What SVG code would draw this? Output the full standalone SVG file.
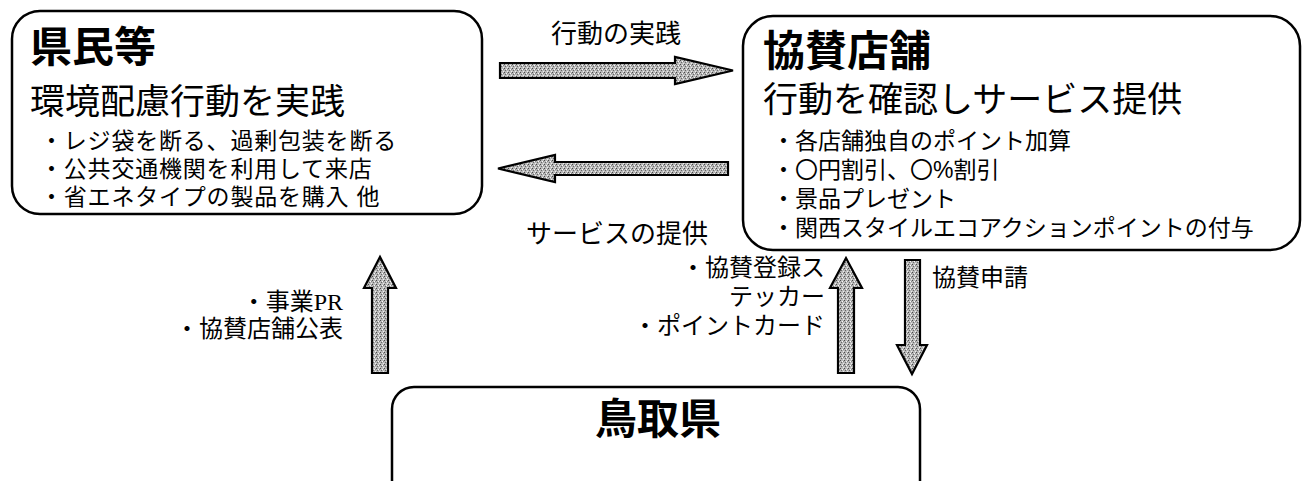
<svg xmlns="http://www.w3.org/2000/svg" width="1308" height="481" viewBox="0 0 1308 481">
<style>
.box{fill:#fff;stroke:#000;stroke-width:2.5}
.t{font-family:"Liberation Sans","Noto Sans CJK JP",sans-serif;fill:#000}
.title{font-size:42px;font-weight:bold}
.head{font-size:35px}
.bul{font-size:23px}
.lab{font-family:"Liberation Serif","Noto Sans CJK JP",serif;font-size:24px;fill:#000}
.arr{fill:url(#tex);stroke:#000;stroke-width:2.2;stroke-linejoin:miter}
</style>
<defs>
<pattern id="tex" width="4" height="4" patternUnits="userSpaceOnUse">
<rect width="4" height="4" fill="#b8b8b8"/>
<rect x="0" y="0" width="1" height="1" fill="#4a4a4a"/>
<rect x="2" y="1" width="1" height="1" fill="#fafafa"/>
<rect x="1" y="2" width="1" height="1" fill="#666"/>
<rect x="3" y="3" width="1" height="1" fill="#eee"/>
<rect x="3" y="1" width="1" height="1" fill="#888"/>
</pattern>
</defs>
<rect width="1308" height="481" fill="#fff"/>

<g id="node-kenmin">
<rect class="box" x="12" y="11" width="470" height="203" rx="28"/>
<text class="t title" x="30" y="62">県民等</text>
<text class="t head" x="30" y="114">環境配慮行動を実践</text>
<text class="t bul" x="40" y="149" letter-spacing="0.8">・レジ袋を断る、過剰包装を断る</text>
<text class="t bul" x="40" y="177" letter-spacing="0.8">・公共交通機関を利用して来店</text>
<text class="t bul" x="40" y="205" letter-spacing="0.8">・省エネタイプの製品を購入  他</text>
</g>

<g id="node-kyosan">
<rect class="box" x="743" y="16" width="557" height="234" rx="30"/>
<text class="t title" x="763" y="66">協賛店舗</text>
<text class="t head" x="763" y="112">行動を確認しサービス提供</text>
<text class="t bul" x="772" y="149">・各店舗独自のポイント加算</text>
<text class="t bul" x="772" y="178">・〇円割引、〇%割引</text>
<text class="t bul" x="772" y="207">・景品プレゼント</text>
<text class="t bul" x="772" y="236">・関西スタイルエコアクションポイントの付与</text>
</g>

<g id="node-tottori">
<rect class="box" x="392" y="387" width="528" height="130" rx="22"/>
<text class="t title" x="658" y="434" text-anchor="middle">鳥取県</text>
</g>

<g id="connectors">
<polygon class="arr" points="500,63 675,63 675,57 733,70.5 675,84 675,78 500,78"/>
<polygon class="arr" points="728,162 555,162 555,155 498,168.5 555,182 555,175 728,175"/>
<polygon class="arr" points="372,373 372,288 364,288 380,257 396,288 388,288 388,373"/>
<polygon class="arr" points="838,373 838,288 830,288 846,258 862,288 854,288 854,373"/>
<polygon class="arr" points="905,260 920,260 920,345 927,345 912,374 897,345 905,345"/>
<text class="t" x="616" y="43" font-size="26" text-anchor="middle">行動の実践</text>
<text class="t" x="617" y="243" font-size="26" text-anchor="middle">サービスの提供</text>
<text class="lab" x="343" y="310" text-anchor="end">・事業PR</text>
<text class="lab" x="343" y="337" text-anchor="end">・協賛店舗公表</text>
<text class="lab" x="825" y="276" text-anchor="end">・協賛登録ス</text>
<text class="lab" x="825" y="305" text-anchor="end">テッカー</text>
<text class="lab" x="825" y="334" text-anchor="end">・ポイントカード</text>
<text class="lab" x="932" y="286">協賛申請</text>
</g>
</svg>
